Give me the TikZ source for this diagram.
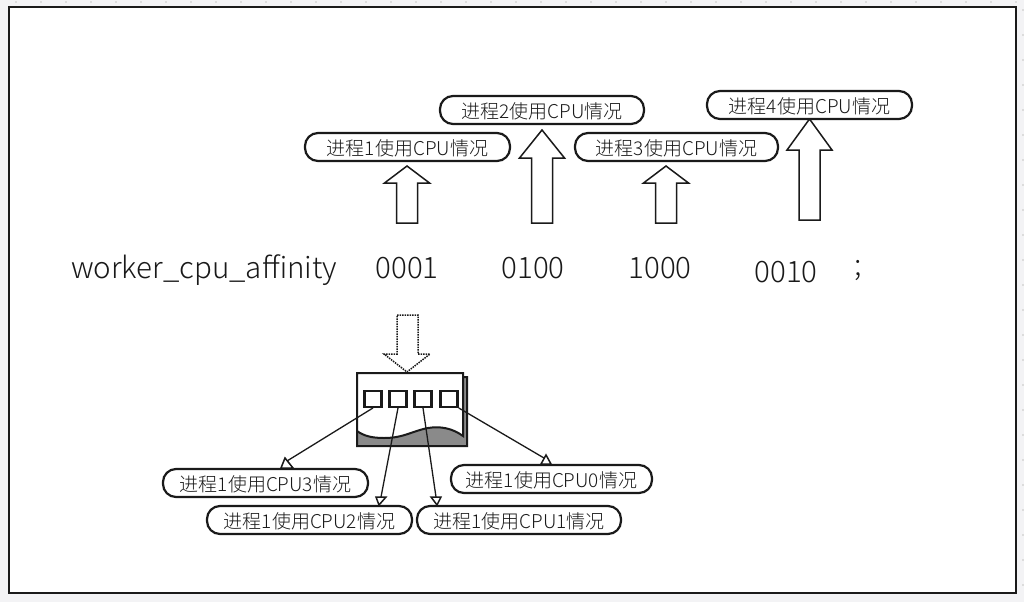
\documentclass[tikz,border=0pt]{standalone}
\usepackage{fontspec}
\setmainfont{Noto Sans CJK SC Light}
\usetikzlibrary{arrows.meta}
\definecolor{bgc}{HTML}{F3F3F5}
\definecolor{dotc}{HTML}{DCDCDC}
\definecolor{inkc}{HTML}{1A1A1A}
\definecolor{grayc}{HTML}{8A8A8A}
\tikzset{
  x=1pt,y=-1pt,
  pill/.style={draw=inkc,line width=2.2pt,rounded corners=13pt,fill=white,minimum height=28pt,minimum width=205pt,inner sep=0pt},
  plabel/.style={inner sep=0pt,font=\fontsize{19}{22}\selectfont,text=black!90},
  lbl/.style={inner sep=0pt,font=\fontsize{29.5}{32}\selectfont,text=black!90},
  bigarrow/.style={draw=inkc,line width=1.5pt,fill=white,line join=miter},
  thinline/.style={draw=inkc,line width=1.3pt},
  headtri/.style={draw=inkc,line width=1.5pt,fill=white,line join=miter},
  slot/.style={draw=inkc,line width=2.4pt,fill=white,minimum width=17pt,minimum height=15.5pt,inner sep=0pt}
}
\newcommand{\uparr}[4]{% cx, tip y, shoulder y, bottom y
  \draw[bigarrow] (#1,#2) -- (#1+22.5,#3) -- (#1+10.5,#3) -- (#1+10.5,#4) -- (#1-10.5,#4) -- (#1-10.5,#3) -- (#1-22.5,#3) -- cycle;}
\newcommand{\pillnode}[5]{% name, x, y, width, text
  \node[pill,minimum width=#4pt] (#1) at (#2,#3) {};
  \node[plabel] at (#2,#3+1) {#5};}
\begin{document}
\begin{tikzpicture}
\useasboundingbox (0,0) rectangle (1024,602);
\fill[bgc] (0,0) rectangle (1024,602);
\foreach \i in {0,...,40}{\fill[dotc] (15+\i*25,1) rectangle +(2,2);}
\foreach \i in {0,...,23}{\fill[dotc] (1022,9+\i*25) rectangle +(2,2);}
\draw[inkc,line width=2pt,fill=white] (9,7) rectangle (1016,593);
% upper arrows
\uparr{407}{166}{183}{223}
\uparr{542}{130}{158}{223}
\uparr{666}{166}{183}{223}
\uparr{809.5}{119}{150}{220}
% pills
\pillnode{p1}{407.5}{147}{205}{进程1使用CPU情况}
\pillnode{p2}{542}{110}{204}{进程2使用CPU情况}
\pillnode{p3}{676.5}{147}{203}{进程3使用CPU情况}
\pillnode{p4}{809.5}{105}{205}{进程4使用CPU情况}
% label row
\node[lbl,anchor=west] (w) at (71,270) {worker\_cpu\_affinity};
\node[lbl] (a) at (407,268) {0001};
\node[lbl] (b) at (533,268) {0100};
\node[lbl] (c) at (660,268) {1000};
\node[lbl] (d) at (786,272) {0010};
\node[lbl] (e) at (858,271) {;};
% dotted arrow
\draw[inkc,line width=1.5pt,densely dotted] (397,315) -- (418,315) -- (418,354) -- (430,354) -- (407,372) -- (384,354) -- (397,354) -- cycle;
% chip
\draw[inkc,line width=2pt,fill=grayc] (461,377) -- (467,377) -- (467,446) -- (357,446) -- (357,428) -- cycle;
\draw[inkc,line width=2pt,fill=white] (357,431) -- (357,373) -- (463,373) -- (463,436)
  .. controls (452,428) and (440,426) .. (428,428) .. controls (412,431) and (404,438) .. (384,438)
  .. controls (372,438) and (364,436) .. (357,431);
\node[slot] (s3) at (373,399) {};
\node[slot] (s2) at (398,399) {};
\node[slot] (s1) at (423,399) {};
\node[slot] (s0) at (449,399) {};
% lower pills
\pillnode{q3}{265.5}{483}{205}{进程1使用CPU3情况}
\pillnode{q2}{309.5}{520}{205}{进程1使用CPU2情况}
\pillnode{q1}{519}{520}{204}{进程1使用CPU1情况}
\pillnode{q0}{551.5}{479}{201}{进程1使用CPU0情况}
% connector ends
\coordinate (t3) at (287,461);
\coordinate (t2) at (381,497);
\coordinate (t1) at (436,497);
\coordinate (t0) at (544,458);
\draw[headtri] (285,458) -- (293,468) -- (281,468) -- cycle;
\draw[headtri] (376,497) -- (386,497) -- (379,505) -- cycle;
\draw[headtri] (431,497) -- (441,497) -- (437,505) -- cycle;
\draw[headtri] (546,455) -- (551,464) -- (541,464) -- cycle;
\draw[thinline] (s3.south) -- (t3);
\draw[thinline] (s2.south) -- (t2);
\draw[thinline] (s1.south) -- (t1);
\draw[thinline] (s0.south east) -- (t0);
\end{tikzpicture}
\end{document}
